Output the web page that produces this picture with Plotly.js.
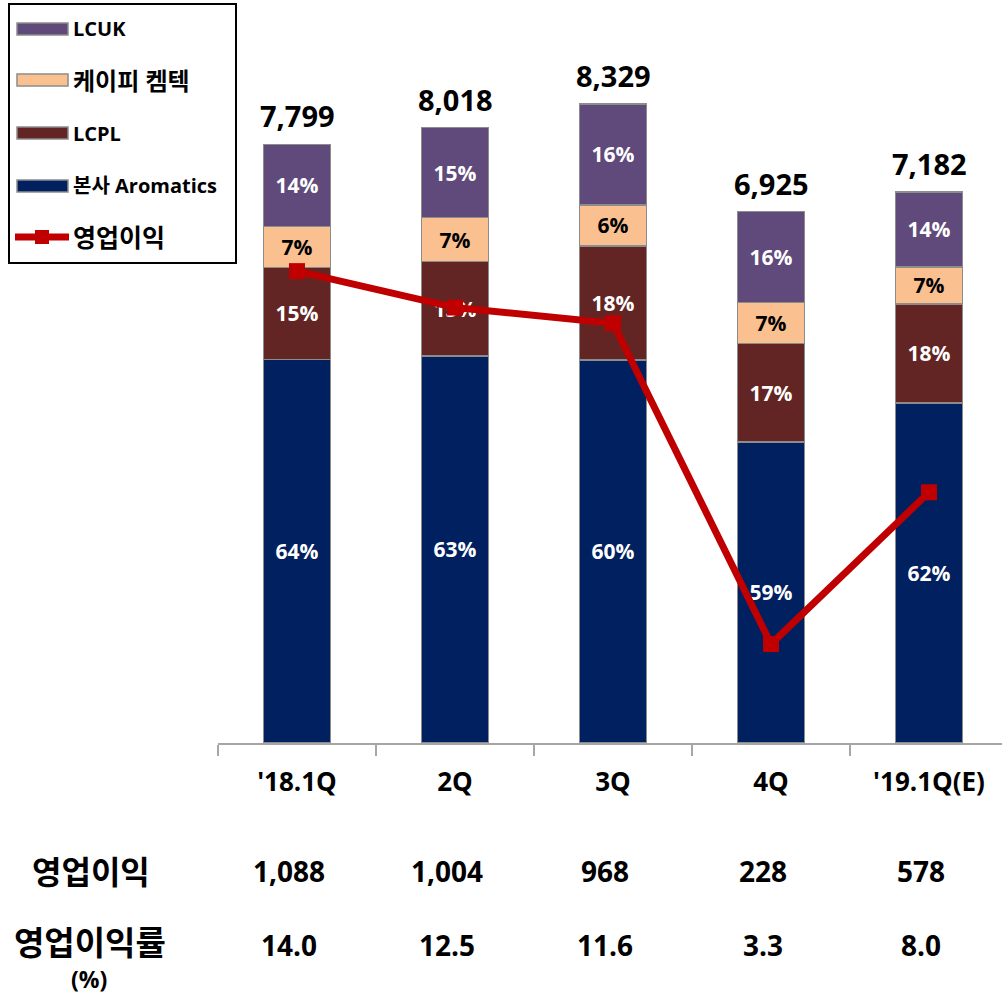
<!DOCTYPE html>
<html><head><meta charset="utf-8">
<script src="https://cdn.plot.ly/plotly-3.0.1.min.js"></script>
<style>html,body{margin:0;padding:0;background:#fff}#chart{width:1002px;height:995px}</style>
</head><body><div id="chart"></div>
<script>
// ---- data ----
const categories = ["'18.1Q", "2Q", "3Q", "4Q", "'19.1Q(E)"];
const aromatics = [5000, 5046, 4991, 3925, 4431];
const lcpl = [1198, 1226, 1486, 1278, 1290];
const kpchemtech = [534, 574, 534, 535, 482];
const lcuk = [1067, 1172, 1318, 1187, 979];
const totals = [7799, 8018, 8329, 6925, 7182];
const aromaticsPct = ["64%", "63%", "60%", "59%", "62%"];
const lcplPct = ["15%", "15%", "18%", "17%", "18%"];
const kpchemtechPct = ["7%", "7%", "6%", "7%", "7%"];
const lcukPct = ["14%", "15%", "16%", "16%", "14%"];
const opProfit = [1088, 1004, 968, 228, 578];
const opMargin = [14.0, 12.5, 11.6, 3.3, 8.0];
const seriesNames = ["본사 Aromatics", "LCPL", "케이피 켐텍", "LCUK", "영업이익"];
const rowLabels = ["영업이익", "영업이익률", "(%)"];

// ---- styling ----
const FONT = "'Open Sans', 'Noto Sans CJK KR', sans-serif";
const C_NAVY = "#002060", C_BROWN = "#632523", C_PEACH = "#FAC090", C_PURPLE = "#604A7B", C_RED = "#C00000";
const OUTLINE = {color: "#8C8C8C", width: 1.5};
const L = 218, T = 20, W = 784, H = 723;
const px = x => (x - L) / W;
const py = y => (T + H - y) / H;

function barTrace(y, name, color, text, txtColor) {
  return {
    type: "bar", x: categories, y: y, name: name,
    marker: {color: color, line: OUTLINE},
    text: text, textposition: "inside", insidetextanchor: "middle",
    textangle: 0, constraintext: "none",
    textfont: {family: FONT, size: 21, color: txtColor, weight: "bold"},
    hoverinfo: "skip", showlegend: false
  };
}

const traces = [
  barTrace(aromatics, seriesNames[0], C_NAVY, aromaticsPct, "#ffffff"),
  barTrace(lcpl, seriesNames[1], C_BROWN, lcplPct, "#ffffff"),
  barTrace(kpchemtech, seriesNames[2], C_PEACH, kpchemtechPct, "#000000"),
  barTrace(lcuk, seriesNames[3], C_PURPLE, lcukPct, "#ffffff"),
  {
    type: "scatter", mode: "lines+markers", x: categories, y: opProfit, yaxis: "y2",
    name: seriesNames[4], line: {color: C_RED, width: 7},
    marker: {symbol: "square", size: 16, color: C_RED}, cliponaxis: false,
    hoverinfo: "skip", showlegend: false
  }
];

const annotations = [];
const shapes = [];
// totals above bars + data table
categories.forEach((c, i) => {
  annotations.push({x: c, y: totals[i], xref: "x", yref: "y", yanchor: "bottom", yshift: 7,
    text: totals[i].toLocaleString("en-US"), showarrow: false,
    font: {family: FONT, size: 29, color: "#000", weight: "bold"}});
  annotations.push({x: c, y: py(871), xref: "x", yref: "paper", xshift: -8, yanchor: "middle",
    text: opProfit[i].toLocaleString("en-US"), showarrow: false,
    font: {family: FONT, size: 28, color: "#000", weight: "bold"}});
  annotations.push({x: c, y: py(945), xref: "x", yref: "paper", xshift: -8, yanchor: "middle",
    text: opMargin[i].toFixed(1), showarrow: false,
    font: {family: FONT, size: 28, color: "#000", weight: "bold"}});
});
// row labels
annotations.push({x: px(91), y: py(871), xref: "paper", yref: "paper", xanchor: "center", yanchor: "middle",
  text: rowLabels[0], showarrow: false, font: {family: FONT, size: 32, color: "#000", weight: "bold"}});
annotations.push({x: px(90), y: py(943), xref: "paper", yref: "paper", xanchor: "center", yanchor: "middle",
  text: rowLabels[1], showarrow: false, font: {family: FONT, size: 33, color: "#000", weight: "bold"}});
annotations.push({x: px(89), y: py(979), xref: "paper", yref: "paper", xanchor: "center", yanchor: "middle",
  borderpad: 0, text: rowLabels[2], showarrow: false, font: {family: FONT, size: 23, color: "#000", weight: "bold"}});

// custom legend
shapes.push({type: "rect", xref: "paper", yref: "paper", x0: px(9), x1: px(236), y0: py(4), y1: py(263),
  line: {color: "#000", width: 2}, fillcolor: "#fff", layer: "above"});
const legItems = [
  {name: seriesNames[3], color: C_PURPLE, y: 29, size: 20},
  {name: seriesNames[2], color: C_PEACH, y: 80, size: 24},
  {name: seriesNames[1], color: C_BROWN, y: 133, size: 20},
  {name: seriesNames[0], color: C_NAVY, y: 186, size: 20}
];
legItems.forEach(it => {
  shapes.push({type: "rect", xref: "paper", yref: "paper", x0: px(17), x1: px(68), y0: py(it.y + 6), y1: py(it.y - 6),
    fillcolor: it.color, line: {color: "#8C8C8C", width: 1.5}, layer: "above"});
  annotations.push({x: px(71), y: py(it.y), xref: "paper", yref: "paper", xanchor: "left", yanchor: "middle",
    text: it.name, showarrow: false, font: {family: FONT, size: it.size, color: "#000", weight: "bold"}});
});
shapes.push({type: "line", xref: "paper", yref: "paper", x0: px(15), x1: px(69), y0: py(237), y1: py(237),
  line: {color: C_RED, width: 7}, layer: "above"});
shapes.push({type: "rect", xref: "paper", yref: "paper", x0: px(35), x1: px(49), y0: py(244), y1: py(230),
  fillcolor: C_RED, line: {width: 0}, layer: "above"});
annotations.push({x: px(71), y: py(237), xref: "paper", yref: "paper", xanchor: "left", yanchor: "middle",
  text: seriesNames[4], showarrow: false, font: {family: FONT, size: 25, color: "#000", weight: "bold"}});

const layout = {
  width: 1002, height: 995,
  margin: {l: L, r: 1002 - L - W, t: T, b: 995 - T - H, pad: 0},
  paper_bgcolor: "#fff", plot_bgcolor: "#fff",
  barmode: "stack", bargap: 0.575,
  showlegend: false,
  font: {family: FONT},
  xaxis: {
    type: "category", range: [-0.5, 4.462], fixedrange: true,
    showline: true, linecolor: "#A6A6A6", linewidth: 2,
    ticks: "outside", tickson: "boundaries", ticklen: 11, tickwidth: 2, tickcolor: "#A6A6A6",
    showgrid: false, zeroline: false,
    tickfont: {family: FONT, size: 26, color: "#000", weight: "bold"},
    ticklabelstandoff: 15
  },
  yaxis: {range: [0, 9421], visible: false, showgrid: false, zeroline: false, fixedrange: true},
  yaxis2: {range: [0, 1667], overlaying: "y", side: "right", visible: false, showgrid: false, zeroline: false, fixedrange: true},
  annotations: annotations,
  shapes: shapes
};

Plotly.newPlot("chart", traces, layout, {staticPlot: true, displayModeBar: false});
</script>
</body></html>
